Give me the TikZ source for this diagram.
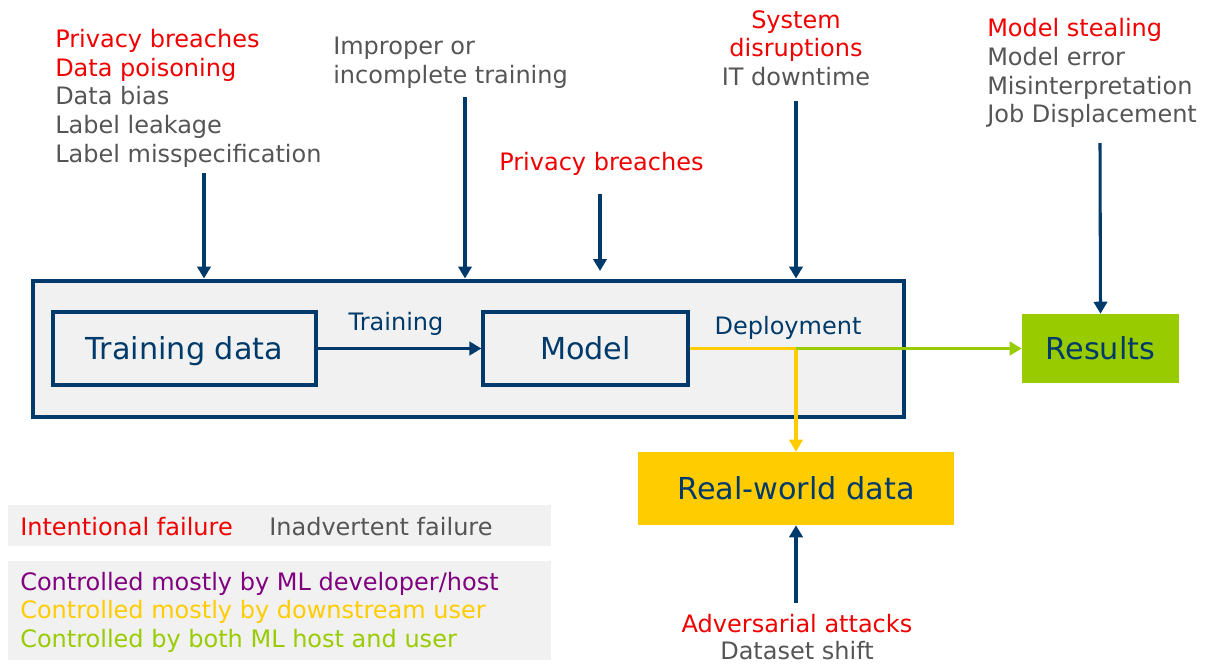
\documentclass[tikz,border=0pt]{standalone}
\usepackage{fontspec}
\setmainfont{DejaVu Sans}
\usetikzlibrary{arrows.meta}
\definecolor{dblue}{RGB}{0,58,106}
\definecolor{fred}{RGB}{240,0,0}
\definecolor{fgray}{RGB}{85,85,85}
\definecolor{fpurple}{RGB}{128,0,128}
\definecolor{fyellow}{RGB}{255,204,0}
\definecolor{fgreen}{RGB}{153,204,0}
\definecolor{lgray}{RGB}{241,241,241}
\tikzset{
  sm/.style={font=\fontsize{18}{21.5}\selectfont, inner sep=0pt, anchor=base west},
  smc/.style={sm, anchor=base},
  red/.style={text=fred},
  gry/.style={text=fgray},
  big/.style={font=\fontsize{22.7}{27}\selectfont, text=dblue, inner sep=0pt, text height=16.5pt, text depth=0pt, align=center},
  frame/.style={draw=dblue, line width=3pt, fill=lgray, inner sep=0pt},
  wbox/.style={big, draw=dblue, line width=2.4pt},
  tip/.style={-{Triangle[width=10pt,length=9pt]}},
  arr/.style={draw=dblue, line width=2.3pt, tip},
  legbox/.style={fill=lgray, inner sep=0pt},
}
\begin{document}
\begin{tikzpicture}[x=0.75pt,y=-0.75pt]
\useasboundingbox (0,0) rectangle (1207,664);

% main frame and boxes
\node[frame, minimum width=652.9pt, minimum height=102pt] (outer) at (468.25,348.5) {};
\node[wbox, minimum width=197.25pt, minimum height=54.75pt] (td) at (184.5,348.5) {Training data};
\node[wbox, minimum width=153.75pt, minimum height=54.75pt] (model) at (585.5,348.5) {Model};
\node[big, fill=fgreen, minimum width=117.75pt, minimum height=51.75pt] (res) at (1100.5,348.5) {Results};
\node[big, fill=fyellow, minimum width=237pt, minimum height=54.75pt] (rwd) at (796,488.5) {Real-world data};

% legend boxes
\node[legbox, minimum width=407.25pt, minimum height=31.1pt] (leg1) at (279.5,525.75) {};
\node[legbox, minimum width=407.25pt, minimum height=74.25pt] (leg2) at (279.5,610.5) {};
\node[sm, red] (l1) at (20,535) {Intentional failure};
\node[sm, gry] (l2) at (269,535) {Inadvertent failure};
\node[sm, text=fpurple] (l3) at (20,590) {Controlled mostly by ML developer/host};
\node[sm, text=fyellow] (l4) at (20,618.5) {Controlled mostly by downstream user};
\node[sm, text=fgreen] (l5) at (20,647.5) {Controlled by both ML host and user};

% top-left texts
\node[sm, red] (t1) at (55,47.3) {Privacy breaches};
\node[sm, red] (t2) at (55,76) {Data poisoning};
\node[sm, gry] (t3) at (55,104.8) {Data bias};
\node[sm, gry] (t4) at (55,133.5) {Label leakage};
\node[sm, gry] (t5) at (55,162.3) {Label misspecification};

\node[sm, gry] (i1) at (333,54.5) {Improper or};
\node[sm, gry] (i2) at (333,83.3) {incomplete training};

\node[sm, red] (pb) at (499,170.5) {Privacy breaches};

\node[smc, red] (s1) at (796,28) {System};
\node[smc, red] (s2) at (796,56.7) {disruptions};
\node[smc, gry] (s3) at (796,85.5) {IT downtime};

\node[sm, red] (m1) at (987,36.5) {Model stealing};
\node[sm, gry] (m2) at (987,65.3) {Model error};
\node[sm, gry] (m3) at (987,94) {Misinterpretation};
\node[sm, gry] (m4) at (987,122.8) {Job Displacement};

\node[smc, red] (adv) at (797,632) {Adversarial attacks};
\node[smc, gry] (ds) at (797,659.5) {Dataset shift};

% connector labels
\node[smc, text=dblue] (trl) at (396,330) {Training};
\node[smc, text=dblue] (dpl) at (788,334) {Deployment};

% arrow start/end coordinates
\coordinate (c1) at (204,173);
\coordinate (c2) at (465,97.3);
\coordinate (c3) at (600,194);
\coordinate (c3e) at (600,271);
\coordinate (c4) at (796,100.7);
\coordinate (c5) at (1100,143);
\coordinate (c6) at (796,603);

\draw[arr] (c1) -- (c1 |- outer.north);
\draw[arr] (c2) -- (c2 |- outer.north);
\draw[arr] (c3) -- (c3e);
\draw[arr] (c4) -- (c4 |- outer.north);
\draw[arr] (c5) -- (res.north);
\draw[arr] (c6) -- (rwd.south);

\draw[arr] (td.east) -- (model.west);

\coordinate (j) at (model.east -| rwd.north);
\draw[fyellow, line width=2.3pt, tip] (model.east) -- (j) -- (rwd.north);
\draw[fgreen, line width=2.3pt, tip] (j) -- (res.west);
\end{tikzpicture}
\end{document}
